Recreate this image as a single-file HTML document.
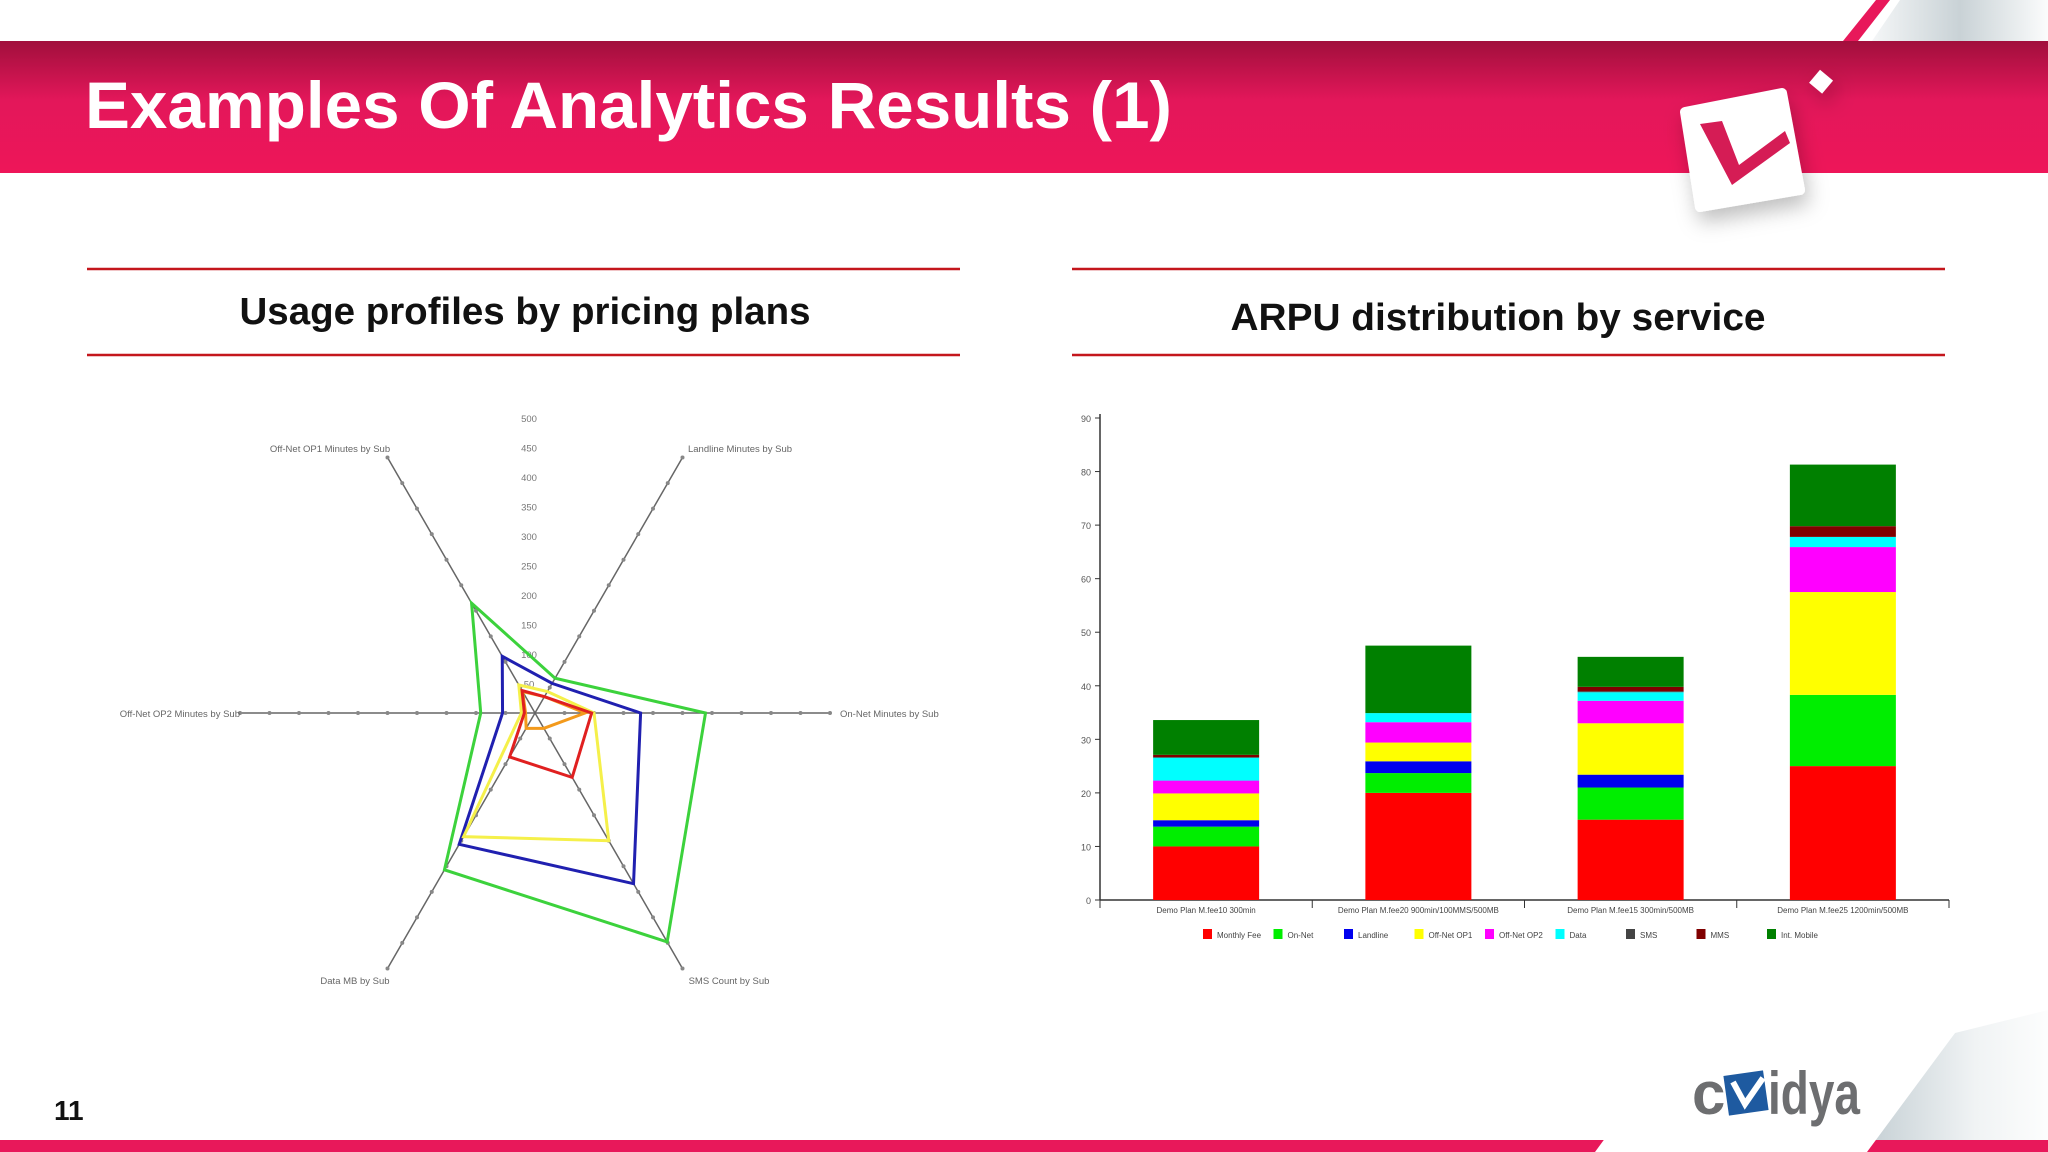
<!DOCTYPE html>
<html><head><meta charset="utf-8"><style>
html,body{margin:0;padding:0;background:#fff;}
svg{display:block;font-family:"Liberation Sans",sans-serif;}
</style></head><body>
<svg id="root" width="2048" height="1152" viewBox="0 0 2048 1152" xmlns="http://www.w3.org/2000/svg">
<defs>
<linearGradient id="band" x1="0" y1="0" x2="0" y2="1"><stop offset="0" stop-color="#a10f3c"/><stop offset="0.45" stop-color="#e3175a"/><stop offset="1" stop-color="#ee1659"/></linearGradient>
<linearGradient id="grayg" x1="0" y1="0" x2="1" y2="0"><stop offset="0" stop-color="#f4f6f7"/><stop offset="0.5" stop-color="#c9d2d6"/><stop offset="1" stop-color="#fbfcfc"/></linearGradient>
<linearGradient id="grayf" x1="0" y1="0" x2="1" y2="0"><stop offset="0" stop-color="#9fb0b8"/><stop offset="0.6" stop-color="#e6ebed"/><stop offset="1" stop-color="#fbfcfc"/></linearGradient>
<filter id="sh" x="-30%" y="-30%" width="160%" height="160%"><feDropShadow dx="4" dy="10" stdDeviation="10" flood-color="#000" flood-opacity="0.25"/></filter>
</defs>
<!-- header -->
<polygon points="1900,0 2048,0 2048,41 1872,41" fill="url(#grayg)"/>
<polygon points="1876,0 1890,0 1858,41 1843,41" fill="#e8185a"/>
<rect x="0" y="41" width="2048" height="132" fill="url(#band)"/>
<text x="85" y="128" font-size="66" font-weight="bold" fill="#fff" textLength="1087" lengthAdjust="spacingAndGlyphs">Examples Of Analytics Results (1)</text>
<g filter="url(#sh)">
<polygon points="1685,112 1782,93 1800,190 1700,207" fill="#fff" stroke="#fff" stroke-width="10" stroke-linejoin="round"/>
<polygon points="1700,124 1722,121 1739,165 1785,131 1790,143 1732,185" fill="#d51a55"/>
<rect x="1813" y="73" width="17" height="17" fill="#fff" transform="rotate(40 1821 81)"/>
</g>
<!-- subtitles -->
<g>
<line x1="87" y1="269" x2="960" y2="269" stroke="#c4161c" stroke-width="2.5"/>
<line x1="87" y1="355" x2="960" y2="355" stroke="#c4161c" stroke-width="2.5"/>
<text x="525" y="324" text-anchor="middle" font-size="38" font-weight="bold" fill="#111" textLength="571" lengthAdjust="spacingAndGlyphs">Usage profiles by pricing plans</text>
</g>
<g>
<line x1="1072" y1="269" x2="1945" y2="269" stroke="#c4161c" stroke-width="2.5"/>
<line x1="1072" y1="355" x2="1945" y2="355" stroke="#c4161c" stroke-width="2.5"/>
<text x="1498" y="330" text-anchor="middle" font-size="38" font-weight="bold" fill="#111" textLength="535" lengthAdjust="spacingAndGlyphs">ARPU distribution by service</text>
</g>
<g id="radar"></g>
<g id="bars"></g>
<!-- footer -->
<rect x="0" y="1140" width="2048" height="12" fill="#e8185a"/>
<polygon points="1955,1033 2048,1010 2048,1140 1867,1140" fill="url(#grayf)" opacity="0.6"/>
<polygon points="1682,1033 1955,1033 1867,1152 1595,1152" fill="#fff"/>
<text x="54" y="1120" font-size="28" font-weight="bold" fill="#111">11</text>
<g>
<text x="1692" y="1114" font-size="60" font-weight="bold" fill="#6d6e70">c</text>
<rect x="1726" y="1073" width="40" height="40" fill="#1e5aa0" transform="rotate(-8 1746 1093)"/>
<polyline points="1733,1082 1745,1104 1763,1078" fill="none" stroke="#fff" stroke-width="6"/>
<text x="1768" y="1114" font-size="60" font-weight="bold" fill="#6d6e70" textLength="92" lengthAdjust="spacingAndGlyphs">idya</text>
</g>
</svg>
<script>
const NS="http://www.w3.org/2000/svg";
// ---- radar data ----
const radarAxes=["On-Net Minutes by Sub","Landline Minutes by Sub","Off-Net OP1 Minutes by Sub","Off-Net OP2 Minutes by Sub","Data MB by Sub","SMS Count by Sub"];
const radarTicks=[50,100,150,200,250,300,350,400,450,500];
const radarGreen=[289,68,215,92,307,448];
const radarBlue=[179,58,111,55,257,334];
const radarYellow=[100,42,55,23,242,250];
const radarOrange=[85,32,42,16,30,30];
const radarRed=[96,32,44,18,86,126];
// ---- bar data ----
const barCats=["Demo Plan M.fee10 300min","Demo Plan M.fee20 900min/100MMS/500MB","Demo Plan M.fee15 300min/500MB","Demo Plan M.fee25 1200min/500MB"];
const barSeries=["Monthly Fee","On-Net","Landline","Off-Net OP1","Off-Net OP2","Data","SMS","MMS","Int. Mobile"];
const monthlyFee=[10,20,15,25];
const onNet=[3.7,3.7,6,13.3];
const landline=[1.2,2.2,2.4,0];
const offNetOp1=[5,3.5,9.6,19.2];
const offNetOp2=[2.4,3.8,4.2,8.4];
const dataRev=[4.3,1.7,1.6,1.9];
const smsRev=[0,0,0.2,0];
const mmsRev=[0.5,0,0.8,2];
const intMobile=[6.5,12.6,5.6,11.5];
const barTicks=[0,10,20,30,40,50,60,70,80,90];

function el(tag,attrs,parent){const e=document.createElementNS(NS,tag);for(const k in attrs)e.setAttribute(k,attrs[k]);parent.appendChild(e);return e;}

// radar
(function(){
const g=document.getElementById('radar');
const cx=535,cy=713,R=295,max=500;
const ang=i=>i*Math.PI/3;
const pt=(i,v)=>[cx+Math.cos(ang(i))*v/max*R, cy-Math.sin(ang(i))*v/max*R];
radarAxes.forEach((name,i)=>{
  const a=pt(i,max);
  const ln=el('line',{x1:cx,y1:cy,x2:a[0],y2:a[1],stroke:'#666','stroke-width':1.5},g);
  
  
  radarTicks.forEach(t=>{const p=pt(i,t);const c=el('circle',{cx:p[0],cy:p[1],r:2,fill:'#888'},g);
    
    });
});
const lbl=[[840,717,'start'],[740,452,'middle'],[330,452,'middle'],[240,717,'end'],[355,984,'middle'],[729,984,'middle']];
radarAxes.forEach((name,i)=>{
  const t=el('text',{x:lbl[i][0],y:lbl[i][1],'text-anchor':lbl[i][2],'font-size':9.5,fill:'#666'},g);
  t.textContent=name;
  
  
});
radarTicks.forEach(v=>{
  const t=el('text',{x:529,y:cy-v/max*R+4,'text-anchor':'middle','font-size':9.5,fill:'#777'},g);
  t.textContent=v;
  
  
});
const series=[[radarGreen,'#3cd23c','radar-series-green'],[radarBlue,'#2020b0','radar-series-blue'],[radarYellow,'#f5f04a','radar-series-yellow'],[radarOrange,'#f39a1c','radar-series-orange'],[radarRed,'#e02020','radar-series-red']];
series.forEach(s=>{
  const pts=s[0].map((v,i)=>pt(i,v).join(',')).join(' ');
  const p=el('polygon',{points:pts,fill:'none',stroke:s[1],'stroke-width':3},g);
  
  
});
})();

// bars
(function(){
const g=document.getElementById('bars');
const x0=1100,x1=1949,y0=900,yTop=418,maxV=90;
const y=v=>y0-v/maxV*(y0-yTop);
const catW=(x1-x0)/barCats.length, bw=106;
const cx=i=>x0+catW*(i+0.5);
const colors=['#ff0000','#00ee00','#0000ee','#ffff00','#ff00ff','#00ffff','#444444','#800000','#008000'];
const all=[monthlyFee,onNet,landline,offNetOp1,offNetOp2,dataRev,smsRev,mmsRev,intMobile];
let ax=el('line',{x1:x0,y1:y0,x2:x0,y2:yTop-4,stroke:'#333','stroke-width':1.5},g);


ax=el('line',{x1:x0,y1:y0,x2:x1,y2:y0,stroke:'#333','stroke-width':1.5},g);


barTicks.forEach(v=>{
  el('line',{x1:x0-5,y1:y(v),x2:x0,y2:y(v),stroke:'#333'},g);
  const t=el('text',{x:x0-9,y:y(v)+4,'text-anchor':'end','font-size':9,fill:'#555'},g);
  t.textContent=v;
  
  
});
for(let i=0;i<=barCats.length;i++){el('line',{x1:x0+catW*i,y1:y0,x2:x0+catW*i,y2:y0+8,stroke:'#333'},g);}
barCats.forEach((c,i)=>{
  let base=0;
  all.forEach((arr,k)=>{
    const v=arr[i]; if(v<=0){return;}
    const r=el('rect',{x:cx(i)-bw/2,y:y(base+v),width:bw,height:y(base)-y(base+v),fill:colors[k]},g);
    
    
    base+=v;
  });
  const t=el('text',{x:cx(i),y:y0+13,'text-anchor':'middle','font-size':8,fill:'#444'},g);
  t.textContent=c;
  
  
});
barSeries.forEach((s,k)=>{
  const lx=1203+70.5*k;
  const r=el('rect',{x:lx,y:929,width:9,height:10,fill:colors[k]},g);
  
  
  const t=el('text',{x:lx+14,y:938,'font-size':8,fill:'#444'},g);
  t.textContent=s;
  
  
});
})();
</script>
</body></html>
